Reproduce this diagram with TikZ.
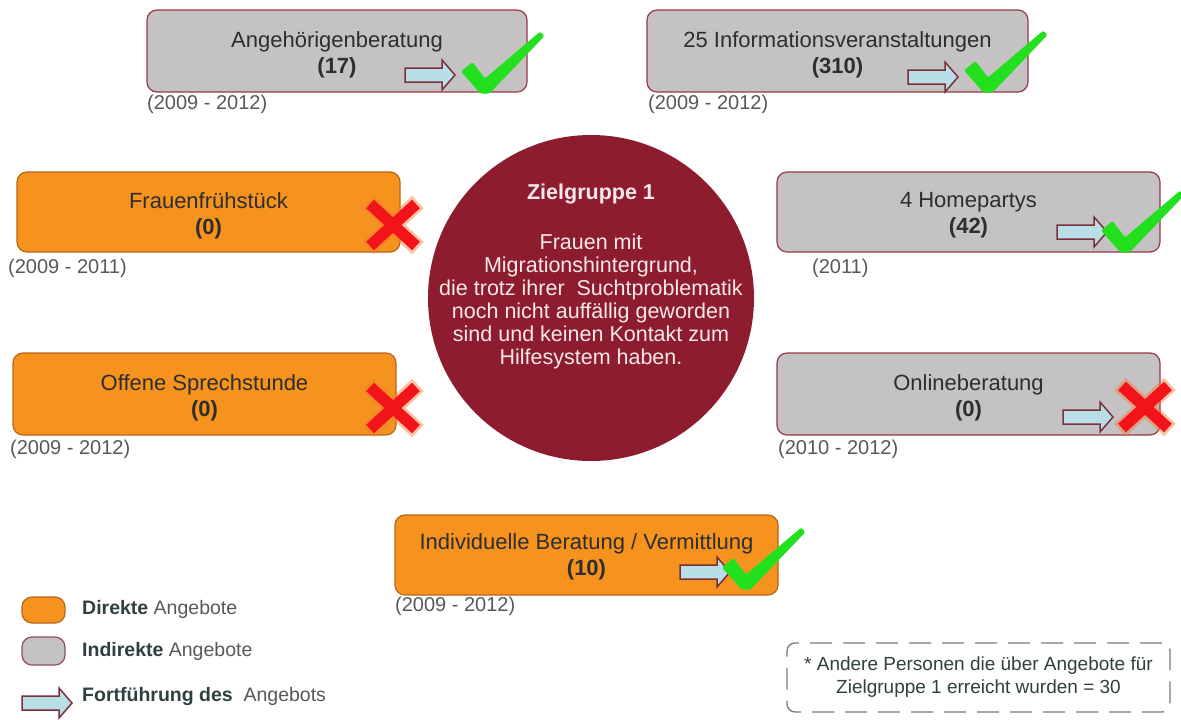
\documentclass[tikz,border=0pt]{standalone}
\usepackage{fontspec}
\setmainfont{Liberation Sans}
\definecolor{orangefill}{HTML}{F6921E}
\definecolor{orangeedge}{HTML}{B8661A}
\definecolor{grayfill}{HTML}{C4C2C3}
\definecolor{grayedge}{HTML}{9A3848}
\definecolor{circ}{HTML}{8E1C2F}
\definecolor{arrfill}{HTML}{B9DEE6}
\definecolor{arredge}{HTML}{7B3040}
\definecolor{checkgreen}{HTML}{22E01E}
\definecolor{xred}{HTML}{F2141A}
\definecolor{xglow}{HTML}{F87A30}
\definecolor{txt}{HTML}{2E2E2E}
\definecolor{datetxt}{HTML}{555A58}
\definecolor{legtxt}{HTML}{2F4040}
\definecolor{circtxt}{HTML}{F7E8EA}
\definecolor{dashgray}{HTML}{7A7A7A}
\begin{document}
\begin{tikzpicture}[x=1pt,y=-1pt,
 box/.style={rectangle, rounded corners=10pt, line width=1.2pt, inner sep=0pt},
 obox/.style={box, fill=orangefill, draw=orangeedge},
 gbox/.style={box, fill=grayfill, draw=grayedge},
 boxtxt/.style={align=center, text=txt, font=\fontsize{22}{26}\selectfont, inner sep=0pt},
 datelbl/.style={anchor=west, text=datetxt, font=\fontsize{20}{24}\selectfont, inner sep=0pt},
 legtext/.style={anchor=west, text=legtxt, font=\fontsize{19.5}{23}\selectfont, inner sep=0pt},
 contarrow/.pic={\draw[fill=arrfill, draw=arredge, line width=1.5pt, line join=miter]
   (0,-7) -- (37,-7) -- (37,-15) -- (50,0) -- (37,15) -- (37,7) -- (0,7) -- cycle;},
 okmark/.pic={\fill[checkgreen, rounded corners=1.5pt] (-23,-17.5) -- (-11.5,-27) -- (1,-10.5)
   -- (56.3,-57.5) -- (60.5,-53) -- (5.5,4.5) -- (-3.5,4.5) -- cycle;},
 nomark/.pic={\draw[xglow, opacity=0.45, line width=17pt] (-25,-23) -- (25,23) (25,-23) -- (-25,23);
   \draw[xred, line width=11.5pt] (-23,-21) -- (23,21) (23,-21) -- (-23,21);},
]
\useasboundingbox[fill=white] (0,0) rectangle (1181,720);

% central circle
\node[circle, fill=circ, minimum size=326pt, inner sep=0pt] (zg) at (591,298) {};
\node[align=center, text=circtxt, font=\fontsize{21.5}{23}\selectfont, inner sep=0pt] (zgtext) at (591,276)
 {\textbf{Zielgruppe 1}\\[27pt] Frauen mit\\ Migrationshintergrund,\\ die trotz ihrer\ \ Suchtproblematik\\
  noch nicht auffällig geworden\\ sind und keinen Kontakt zum\\ Hilfesystem haben.};

% boxes
\node[gbox, minimum width=380pt, minimum height=82pt] (b1) at (337,51) {};
\node[gbox, minimum width=381pt, minimum height=82pt] (b2) at (837.5,51) {};
\node[obox, minimum width=383pt, minimum height=80pt] (b3) at (208.5,212) {};
\node[gbox, minimum width=383pt, minimum height=80pt] (b4) at (968.5,212) {};
\node[obox, minimum width=383pt, minimum height=82pt] (b5) at (204.5,394) {};
\node[gbox, minimum width=383pt, minimum height=82pt] (b6) at (968.5,394) {};
\node[obox, minimum width=383pt, minimum height=80pt] (b7) at (586.5,555) {};

\node[boxtxt] (b1t) at ([yshift=-3.5pt]b1.center) {Angehörigenberatung\\\textbf{(17)}};
\node[boxtxt] (b2t) at ([yshift=-3.5pt]b2.center) {25 Informationsveranstaltungen\\\textbf{(310)}};
\node[boxtxt] (b3t) at ([yshift=-3.5pt]b3.center) {Frauenfrühstück\\\textbf{(0)}};
\node[boxtxt] (b4t) at ([yshift=-3.5pt]b4.center) {4 Homepartys\\\textbf{(42)}};
\node[boxtxt] (b5t) at ([yshift=-3.5pt]b5.center) {Offene Sprechstunde\\\textbf{(0)}};
\node[boxtxt] (b6t) at ([yshift=-3.5pt]b6.center) {Onlineberatung\\\textbf{(0)}};
\node[boxtxt] (b7t) at ([yshift=-2pt]b7.center) {Individuelle Beratung / Vermittlung\\\textbf{(10)}};

% date labels
\node[datelbl] (d1) at (147,104) {(2009 - 2012)};
\node[datelbl] (d2) at (648,104) {(2009 - 2012)};
\node[datelbl] (d3) at (8,268) {(2009 - 2011)};
\node[datelbl] (d4) at (812,268) {(2011)};
\node[datelbl] (d5) at (10,449) {(2009 - 2012)};
\node[datelbl] (d6) at (778,449) {(2010 - 2012)};
\node[datelbl] (d7) at (395,606) {(2009 - 2012)};

% continuation arrows
\pic at (405,75) {contarrow};
\pic at (908,77) {contarrow};
\pic at (1057,232) {contarrow};
\pic at (1063,417) {contarrow};
\pic at (680,572) {contarrow};

% check marks
\pic at (484,89) {okmark};
\pic at (987,88) {okmark};
\pic at (1124,248) {okmark};
\pic at (745,585) {okmark};

% crosses
\pic at (393,225) {nomark};
\pic at (393,408) {nomark};
\pic at (1145,407) {nomark};

% legend
\node[obox, minimum width=43pt, minimum height=26pt] (ld) at (43.5,610) {};
\node[gbox, draw=grayedge!70!gray, minimum width=43pt, minimum height=28pt] (li) at (43.5,651) {};
\pic at (22,703) {contarrow};
\node[legtext] (ldt) at (82,609) {\textbf{Direkte} \textcolor{datetxt}{Angebote}};
\node[legtext] (lit) at (82,651) {\textbf{Indirekte} \textcolor{datetxt}{Angebote}};
\node[legtext] (lft) at (82,696) {\textbf{Fortführung des}\ \ \textcolor{datetxt}{Angebots}};

% note
\node[draw=dashgray, line width=1.3pt, dash pattern=on 22pt off 11pt, rounded corners=8pt,
  minimum width=383pt, minimum height=69pt, align=center, text=legtxt,
  font=\fontsize{19}{23}\selectfont, inner sep=0pt] (note) at (978.5,677.5)
 {* Andere Personen die über Angebote für\\Zielgruppe 1 erreicht wurden = 30};
\end{tikzpicture}
\end{document}
